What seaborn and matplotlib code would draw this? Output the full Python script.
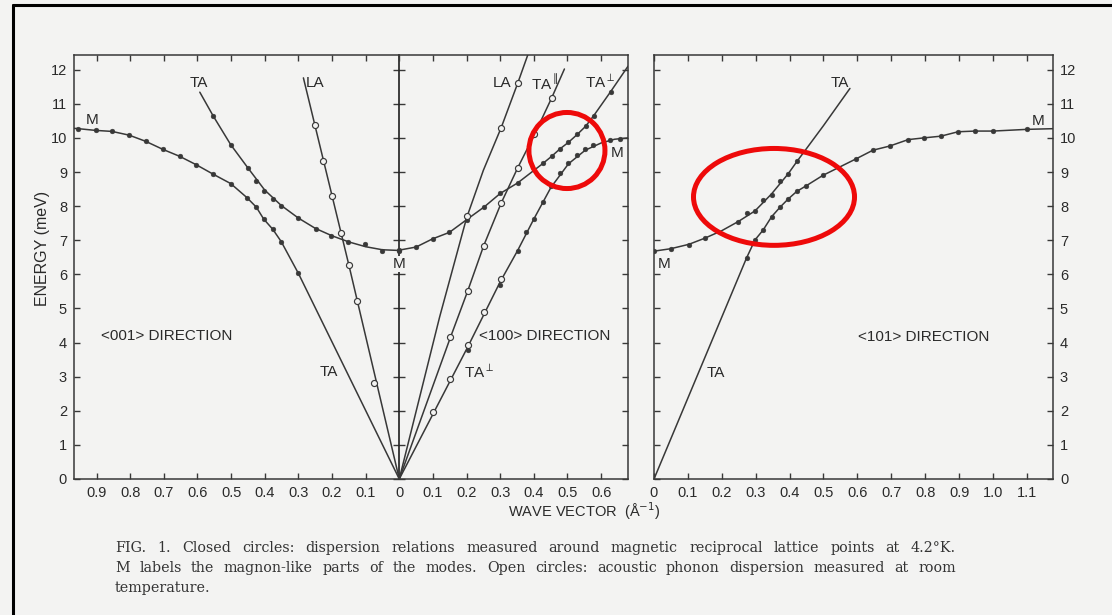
import numpy as np
import matplotlib
matplotlib.use("Agg")
import matplotlib.pyplot as plt
import seaborn as sns
from matplotlib.patches import Ellipse
from matplotlib.lines import Line2D

sns.set_theme(style="ticks")
PAPER = "#f3f3f2"
INK = "#383838"
RED = "#ee0a0a"
plt.rcParams["font.family"] = ["Liberation Sans", "DejaVu Sans"]
plt.rcParams["mathtext.fontset"] = "dejavusans"

# ---------------- <001> direction (plotted towards negative q) ----------------
q001_low = [0.954, 0.903, 0.854, 0.803, 0.754, 0.702, 0.653, 0.603, 0.554, 0.501,
            0.453, 0.425, 0.403, 0.376, 0.351, 0.300]
e001_low = [10.27, 10.22, 10.19, 10.08, 9.90, 9.66, 9.46, 9.21, 8.94, 8.66,
            8.25, 7.97, 7.62, 7.32, 6.96, 6.03]
q001_low_line = [0.967] + q001_low + [0.0]
e001_low_line = [10.28] + e001_low + [0.0]

q001_up = [0.553, 0.501, 0.450, 0.427, 0.403, 0.376, 0.351, 0.302, 0.249, 0.203,
           0.151, 0.101, 0.051, 0.0]
e001_up = [10.64, 9.79, 9.13, 8.75, 8.45, 8.20, 8.01, 7.65, 7.34, 7.13,
           6.95, 6.89, 6.68, 6.69]
q001_up_line = [0.593, 0.553, 0.501, 0.450, 0.400, 0.351, 0.300, 0.250, 0.200,
                0.150, 0.100, 0.050, 0.0]
e001_up_line = [11.34, 10.64, 9.80, 9.12, 8.47, 8.02, 7.65, 7.35, 7.13,
                6.95, 6.81, 6.72, 6.70]

q001_la = [0.252, 0.226, 0.200, 0.173, 0.150, 0.125, 0.074]
e001_la = [10.37, 9.32, 8.30, 7.22, 6.28, 5.22, 2.82]
q001_la_line = [0.285, 0.150, 0.0]
e001_la_line = [11.76, 6.28, 0.0]

# ---------------- <100> direction ----------------
q100_la = [0.200, 0.303, 0.352]
e100_la = [7.70, 10.28, 11.62]
q100_la_line = [0.0, 0.120, 0.200, 0.250, 0.303, 0.352, 0.382]
e100_la_line = [0.0, 4.75, 7.65, 9.05, 10.30, 11.60, 12.43]

q100_tapar = [0.152, 0.203, 0.251, 0.303, 0.352, 0.402, 0.453]
e100_tapar = [4.15, 5.50, 6.84, 8.09, 9.12, 10.10, 11.17]
q100_tapar_line = [0.0] + q100_tapar + [0.491]
e100_tapar_line = [0.0] + e100_tapar + [12.02]

q100_taperp_open = [0.099, 0.152, 0.203, 0.251, 0.303]
e100_taperp_open = [1.96, 2.94, 3.93, 4.89, 5.85]

q100_low = [0.203, 0.300, 0.352, 0.377, 0.400, 0.427, 0.451, 0.478, 0.503, 0.528,
            0.553, 0.577, 0.627, 0.655]
e100_low = [3.78, 5.70, 6.68, 7.23, 7.63, 8.12, 8.58, 8.97, 9.27, 9.51,
            9.66, 9.78, 9.95, 9.98]
q100_low_line = [0.0, 0.100, 0.203, 0.300, 0.352, 0.400, 0.451, 0.503, 0.553, 0.600,
                 0.640, 0.680]
e100_low_line = [0.0, 1.90, 3.86, 5.78, 6.70, 7.62, 8.55, 9.24, 9.64, 9.85,
                 9.96, 10.00]

q100_up = [0.0, 0.050, 0.099, 0.149, 0.200, 0.253, 0.300, 0.352, 0.427, 0.453,
           0.478, 0.503, 0.529, 0.554, 0.578, 0.628]
e100_up = [6.71, 6.80, 7.04, 7.23, 7.60, 7.98, 8.37, 8.68, 9.25, 9.46,
           9.68, 9.87, 10.10, 10.34, 10.65, 11.35]
q100_up_line = q100_up + [0.680]
e100_up_line = e100_up + [12.10]

# ---------------- <101> direction ----------------
q101_up = [0.0, 0.049, 0.103, 0.150, 0.249, 0.273, 0.298, 0.322, 0.347, 0.372,
           0.396, 0.421]
e101_up = [6.68, 6.75, 6.87, 7.06, 7.53, 7.79, 7.87, 8.18, 8.33, 8.74,
           8.94, 9.33]
q101_up_line = [0.0, 0.049, 0.103, 0.150, 0.200, 0.249, 0.298, 0.347, 0.396, 0.421,
                0.500, 0.578]
e101_up_line = [6.68, 6.75, 6.88, 7.06, 7.28, 7.55, 7.86, 8.36, 8.95, 9.30,
                10.36, 11.45]

q101_low = [0.273, 0.298, 0.322, 0.347, 0.372, 0.396, 0.421, 0.448, 0.498, 0.597,
            0.646, 0.695, 0.750, 0.796, 0.846, 0.897, 0.948, 1.000, 1.100]
e101_low = [6.48, 7.01, 7.30, 7.69, 7.97, 8.21, 8.43, 8.59, 8.90, 9.39,
            9.64, 9.76, 9.95, 10.00, 10.05, 10.18, 10.20, 10.20, 10.25]
q101_low_line = [0.0] + q101_low + [1.177]
e101_low_line = [0.0] + e101_low + [10.27]

# tick values
y_ticks = list(range(0, 13))
x_ticks_left = [-0.9, -0.8, -0.7, -0.6, -0.5, -0.4, -0.3, -0.2, -0.1,
                0.0, 0.1, 0.2, 0.3, 0.4, 0.5, 0.6]
x_ticks_right = [0.0, 0.1, 0.2, 0.3, 0.4, 0.5, 0.6, 0.7, 0.8, 0.9, 1.0, 1.1]

caption_lines = [
    "FIG. 1.  Closed circles: dispersion relations measured around magnetic "
    "reciprocal lattice points at 4.2°K.",
    "M labels the magnon-like parts of the modes.  Open circles: acoustic "
    "phonon dispersion measured at room",
    "temperature.",
]

W, H = 1112, 615
fig = plt.figure(figsize=(W / 100, H / 100), dpi=100, facecolor=PAPER)


def px_axes(x0, y0, x1, y1):
    return fig.add_axes([x0 / W, 1 - y1 / H, (x1 - x0) / W, (y1 - y0) / H])


ax1 = px_axes(74, 55, 628, 479)
ax2 = px_axes(654, 55, 1053, 479)


def guide(ax, q, e, sign=1.0):
    sns.lineplot(x=sign * np.asarray(q), y=np.asarray(e), ax=ax, sort=False,
                 estimator=None, color=INK, lw=1.1, zorder=2)


def closed(ax, q, e, sign=1.0):
    sns.scatterplot(x=sign * np.asarray(q), y=np.asarray(e), ax=ax, color=INK,
                    edgecolor=INK, s=12, linewidth=0.3, zorder=4)


def opened(ax, q, e, sign=1.0):
    sns.scatterplot(x=sign * np.asarray(q), y=np.asarray(e), ax=ax, color=PAPER,
                    edgecolor=INK, s=19, linewidth=0.85, zorder=5)


# <001>
guide(ax1, q001_low_line, e001_low_line, -1)
closed(ax1, q001_low, e001_low, -1)
guide(ax1, q001_up_line, e001_up_line, -1)
closed(ax1, q001_up, e001_up, -1)
guide(ax1, q001_la_line, e001_la_line, -1)
opened(ax1, q001_la, e001_la, -1)
# <100>
guide(ax1, q100_la_line, e100_la_line)
opened(ax1, q100_la, e100_la)
guide(ax1, q100_tapar_line, e100_tapar_line)
opened(ax1, q100_tapar, e100_tapar)
guide(ax1, q100_low_line, e100_low_line)
closed(ax1, q100_low, e100_low)
opened(ax1, q100_taperp_open, e100_taperp_open)
guide(ax1, q100_up_line, e100_up_line)
closed(ax1, q100_up, e100_up)
# <101>
guide(ax2, q101_up_line, e101_up_line)
closed(ax2, q101_up, e101_up)
guide(ax2, q101_low_line, e101_low_line)
closed(ax2, q101_low, e101_low)

for ax in (ax1, ax2):
    ax.set_facecolor(PAPER)
    ax.set_ylim(0, 12.43)
    for sp in ax.spines.values():
        sp.set_color(INK)
        sp.set_linewidth(1.1)
        sp.set_visible(True)
    ax.set_yticks(y_ticks)
    ax.tick_params(axis="both", which="both", direction="in", length=4,
                   width=1.0, color=INK, labelcolor="#2a2a2a", labelsize=10.5,
                   top=True, right=True, pad=5)
    ax.set_xlabel("")
    ax.set_ylabel("")

ax1.set_xlim(-0.967, 0.68)
ax1.set_xticks(x_ticks_left)
ax1.set_xticklabels(["0" if v == 0 else f"{abs(v):.1f}" for v in x_ticks_left])
ax1.set_yticklabels([str(v) for v in y_ticks])

ax2.set_xlim(0, 1.177)
ax2.set_xticks(x_ticks_right)
ax2.set_xticklabels(["0" if v == 0 else f"{v:.1f}" for v in x_ticks_right])
ax2.yaxis.tick_right()
ax2.tick_params(axis="y", left=True, right=True, labelleft=False, labelright=True)
ax2.set_yticklabels([str(v) for v in y_ticks])

# shared origin line of the <001> and <100> panels
x0, x1 = ax1.get_xlim()
mid = ax1.secondary_yaxis(-x0 / (x1 - x0))
mid.set_yticks(y_ticks)
mid.set_yticklabels([])
mid.spines["left"].set_color(INK)
mid.spines["left"].set_linewidth(1.1)
mid.tick_params(direction="inout", length=8, width=1.0, color=INK)

# branch labels
lab = dict(color="#2a2a2a", fontsize=11, ha="center", va="center", zorder=6)
bg = dict(facecolor=PAPER, edgecolor="none", pad=0.6)
ax1.text(-0.597, 11.62, "TA", **lab)
ax1.text(-0.249, 11.62, "LA", **lab)
ax1.text(-0.914, 10.52, "M", **lab)
ax1.text(0.0, 6.30, "M", bbox=bg, **lab)
ax1.text(-0.208, 3.14, "TA", **lab)
ax1.text(-0.886, 4.19, "<001> DIRECTION", **{**lab, "ha": "left"})
ax1.text(0.307, 11.62, "LA", **lab)
ax1.text(0.432, 11.62, r"TA$^{\parallel}$", **lab)
ax1.text(0.597, 11.64, r"TA$^{\perp}$", **lab)
ax1.text(0.649, 9.56, "M", **lab)
ax1.text(0.238, 3.14, r"TA$^{\perp}$", **lab)
ax1.text(0.236, 4.19, "<100> DIRECTION", bbox=bg, **{**lab, "ha": "left"})
ax2.text(0.547, 11.62, "TA", **lab)
ax2.text(1.133, 10.50, "M", **lab)
ax2.text(0.030, 6.30, "M", **lab)
ax2.text(0.183, 3.10, "TA", **lab)
ax2.text(0.602, 4.17, "<101> DIRECTION", **{**lab, "ha": "left"})

# highlighted anticrossings
ax1.add_patch(Ellipse((0.4985, 9.63), 0.226, 2.23, fill=False, ec=RED, lw=3.6,
                      clip_on=False, zorder=10))
ax2.add_patch(Ellipse((0.354, 8.27), 0.475, 2.84, fill=False, ec=RED, lw=3.6,
                      clip_on=False, zorder=10))

fig.text(42 / W, 1 - 248 / H, "ENERGY (meV)", rotation=90, ha="center",
         va="center", fontsize=11.5, color="#2a2a2a")
fig.text(508 / W, 1 - 511 / H, "WAVE VECTOR  (Å$^{-1}$)", ha="left",
         va="center", fontsize=10.5, color="#2a2a2a")

# caption, set justified like the printed page (last line flush left)
cap = dict(family="DejaVu Serif", fontsize=10.3, color="#333333",
           ha="left", va="center")
renderer = fig.canvas.get_renderer()
cap_left, cap_right = 115, 956
for i, line in enumerate(caption_lines):
    y = 1 - (548 + 20 * i) / H
    words = [w for w in line.split(" ") if w]
    if i == len(caption_lines) - 1:
        fig.text(cap_left / W, y, line, **cap)
        continue
    items = [fig.text(0, y, w, **cap) for w in words]
    widths = [t.get_window_extent(renderer).width for t in items]
    gap = (cap_right - cap_left - sum(widths)) / (len(items) - 1)
    x = cap_left
    for t, w in zip(items, widths):
        t.set_x(x / W)
        x += w + gap

# frame of the page
fig.add_artist(Line2D([13 / W, 1.0], [1 - 5 / H, 1 - 5 / H], color="black",
                      lw=2.2, transform=fig.transFigure))
fig.add_artist(Line2D([13 / W, 13 / W], [0.0, 1 - 5 / H], color="black",
                      lw=2.2, transform=fig.transFigure))

fig.savefig("out.png", dpi=100, facecolor=PAPER)
